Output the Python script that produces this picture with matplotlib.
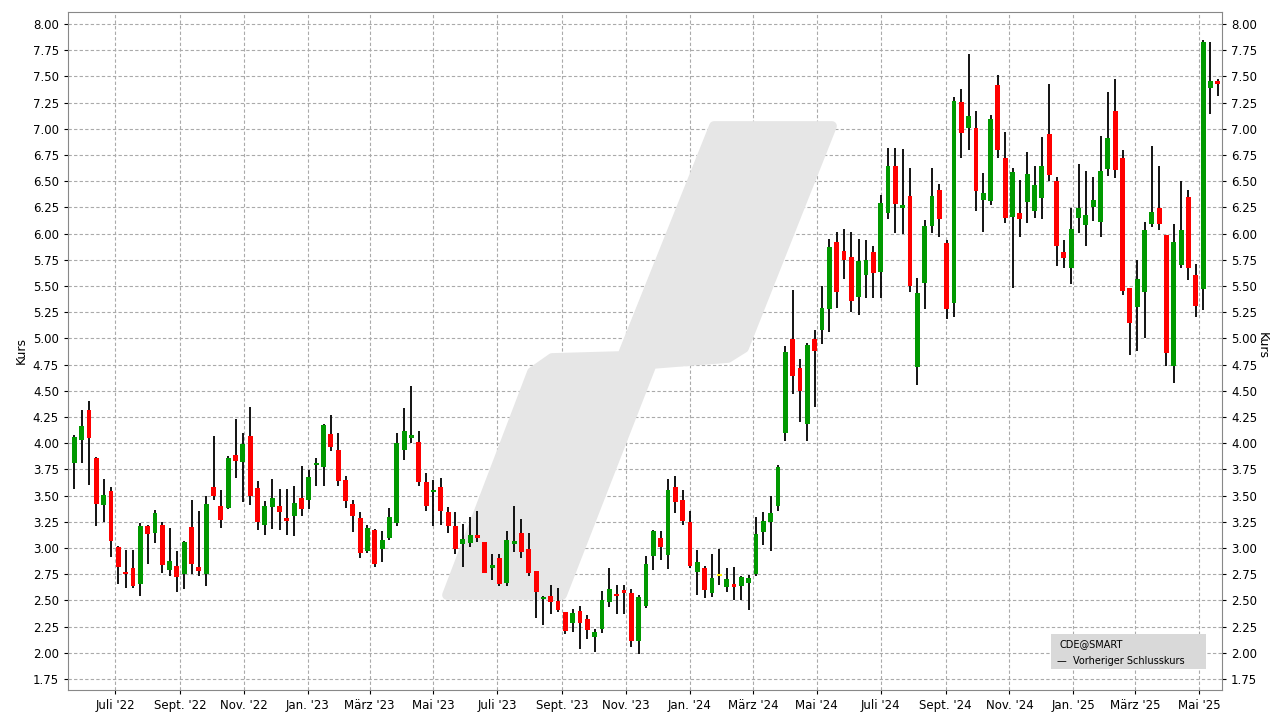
import matplotlib
matplotlib.use("Agg")
import matplotlib.pyplot as plt
import matplotlib.dates as mdates
import numpy as np
import pandas as pd
from matplotlib.patches import Polygon, Rectangle

start = "2022-05-23"
opens = [3.81,4.03,4.32,3.86,3.41,3.54,3.01,2.77,2.81,2.66,3.21,3.14,3.22,2.79,2.83,2.75,3.20,2.82,2.75,3.58,
         3.40,3.38,3.89,3.82,4.07,3.57,3.22,3.39,3.40,3.28,3.31,3.48,3.46,3.79,3.77,4.09,3.94,3.65,3.42,3.29,
         2.97,3.17,2.99,3.10,3.24,3.94,4.05,4.01,3.63,3.53,3.58,3.34,3.21,3.04,3.05,3.12,3.06,2.81,2.90,2.67,
         3.04,3.14,2.99,2.78,2.51,2.54,2.49,2.39,2.28,2.40,2.32,2.15,2.23,2.48,2.56,2.59,2.57,2.11,2.45,2.92,
         3.10,2.93,3.58,3.46,3.25,2.77,2.81,2.57,2.73,2.63,2.65,2.64,2.67,2.75,3.15,3.25,3.40,4.10,4.99,4.72,
         4.18,4.99,5.08,5.28,5.92,5.83,5.78,5.40,5.61,5.82,5.63,6.20,6.65,6.24,6.36,4.73,5.53,6.07,6.42,5.91,
         5.34,7.26,7.01,7.01,6.32,6.31,7.42,6.72,6.16,6.20,6.30,6.22,6.34,6.95,6.50,5.82,5.67,6.15,6.08,6.25,
         6.11,6.62,7.17,6.72,5.48,5.30,5.44,6.09,6.24,5.99,4.74,5.70,6.35,5.61,5.47,7.39,7.45]
highs = [4.08,4.32,4.40,3.87,3.66,3.58,3.02,2.98,2.98,3.24,3.22,3.36,3.25,3.19,2.97,3.07,3.46,3.35,3.50,4.07,
         3.55,3.88,4.23,4.10,4.35,3.64,3.45,3.66,3.56,3.56,3.59,3.78,3.74,3.86,4.18,4.27,4.10,3.69,3.46,3.34,
         3.22,3.18,3.16,3.38,4.10,4.34,4.55,4.12,3.72,3.65,3.67,3.39,3.34,3.23,3.30,3.35,3.06,2.94,2.94,3.16,
         3.40,3.28,3.14,2.78,2.54,2.65,2.62,2.39,2.42,2.45,2.36,2.23,2.59,2.81,2.65,2.65,2.61,2.55,2.92,3.17,
         3.16,3.66,3.69,3.55,3.35,2.98,2.83,2.94,2.99,2.81,2.82,2.73,2.74,3.30,3.34,3.50,3.79,4.93,5.46,4.80,
         4.96,5.08,5.50,5.95,6.02,6.04,6.02,5.95,5.94,5.88,6.37,6.82,6.82,6.81,6.63,5.58,6.13,6.63,6.47,5.94,
         7.30,7.38,7.71,7.17,6.58,7.13,7.51,6.97,6.63,6.51,6.78,6.65,6.92,7.43,6.54,5.94,6.24,6.66,6.60,6.54,
         6.93,7.35,7.48,6.80,5.48,5.75,6.11,6.84,6.65,5.99,6.09,6.50,6.42,5.71,7.85,7.83,7.48]
lows = [3.56,3.81,3.60,3.21,3.25,2.91,2.66,2.62,2.62,2.54,2.85,3.05,2.76,2.73,2.58,2.61,2.75,2.73,2.64,3.46,
        3.19,3.37,3.67,3.44,3.41,3.17,3.12,3.18,3.17,3.12,3.11,3.31,3.37,3.59,3.59,3.93,3.59,3.38,3.15,2.90,
        2.95,2.82,2.87,3.08,3.21,3.84,4.00,3.59,3.35,3.21,3.22,3.14,2.94,2.82,3.01,3.06,2.76,2.69,2.64,2.64,
        2.96,2.90,2.73,2.33,2.27,2.37,2.39,2.18,2.20,2.04,2.13,2.01,2.19,2.44,2.37,2.37,2.06,1.99,2.43,2.79,
        2.89,2.80,3.33,3.22,2.81,2.55,2.52,2.53,2.65,2.58,2.50,2.50,2.41,2.73,3.03,2.97,3.35,4.02,4.47,4.20,
        4.02,4.35,4.95,5.06,5.29,5.57,5.25,5.22,5.39,5.39,5.39,6.14,6.01,6.00,5.44,4.56,5.28,6.01,5.97,5.19,
        5.20,6.72,6.80,6.22,6.02,6.27,6.72,6.10,5.48,5.97,6.10,6.15,6.14,6.50,5.69,5.67,5.52,6.01,5.88,6.12,
        5.97,6.55,6.53,5.41,4.84,4.88,5.00,6.06,6.03,4.74,4.57,5.67,5.56,5.20,5.27,7.14,7.31]
closes = [4.06,4.16,4.05,3.42,3.51,3.07,2.82,2.75,2.64,3.21,3.13,3.33,2.84,2.88,2.72,3.06,2.85,2.78,3.42,3.50,
          3.27,3.86,3.83,3.99,3.50,3.25,3.40,3.48,3.34,3.26,3.43,3.37,3.68,3.80,4.17,3.96,3.64,3.45,3.31,2.95,
          3.19,2.85,3.08,3.30,4.00,4.12,4.07,3.63,3.40,3.55,3.35,3.21,2.99,3.09,3.12,3.10,2.76,2.84,2.66,3.08,
          3.07,2.96,2.76,2.58,2.53,2.48,2.41,2.21,2.38,2.28,2.22,2.20,2.50,2.61,2.54,2.57,2.11,2.53,2.85,3.16,
          3.01,3.55,3.44,3.26,2.83,2.87,2.60,2.71,2.73,2.70,2.63,2.72,2.71,3.13,3.26,3.33,3.77,4.87,4.64,4.50,
          4.94,4.88,5.29,5.87,5.44,5.75,5.36,5.74,5.75,5.62,6.29,6.65,6.28,6.27,5.50,5.43,6.07,6.36,6.14,5.28,
          7.27,6.96,7.12,6.41,6.39,7.09,6.80,6.15,6.59,6.14,6.57,6.46,6.65,6.56,5.88,5.77,6.04,6.24,6.18,6.32,
          6.60,6.91,6.61,5.45,5.15,5.57,6.03,6.21,6.09,4.86,5.92,6.03,5.67,5.31,7.83,7.46,7.43]

month_ticks = ["2022-07-01","2022-09-01","2022-11-01","2023-01-01","2023-03-01","2023-05-01","2023-07-01",
               "2023-09-01","2023-11-01","2024-01-01","2024-03-01","2024-05-01","2024-07-01","2024-09-01",
               "2024-11-01","2025-01-01","2025-03-01","2025-05-01"]
month_labels = ["Juli '22","Sept. '22","Nov. '22","Jan. '23","März '23","Mai '23","Juli '23","Sept. '23",
                "Nov. '23","Jan. '24","März '24","Mai '24","Juli '24","Sept. '24","Nov. '24","Jan. '25",
                "März '25","Mai '25"]

n = len(opens)
dates = pd.date_range(start, periods=n, freq="7D")
x = mdates.date2num(dates)
o = np.array(opens); h = np.array(highs); l = np.array(lows); c = np.array(closes)

W, H = 1279, 719
fig = plt.figure(figsize=(W/100, H/100), dpi=100)
fig.patch.set_facecolor("white")

ax = fig.add_axes([68/W, 29/H, 1154/W, 678/H])

# watermark (figure pixel coords), above grid, below candles
pts = [(447,595),(532,372),(552,358),(622,356),(714,126),(832,126),(744,348),(728,358),(652,364),(562,595)]
poly = Polygon([(px/W, 1-py/H) for px,py in pts], closed=True, transform=fig.transFigure,
               facecolor="#e6e6e6", edgecolor="#e6e6e6", lw=7, joinstyle="round", zorder=1)
ax.add_patch(poly)

colors = np.where(c > o, "#009900", np.where(c < o, "#ff0000", "#ffee00"))
ax.vlines(x, l, h, color="black", lw=1.3, zorder=2)
heights = np.maximum(np.abs(c-o), 0.025)
bottoms = np.minimum(o, c)
ax.bar(x, heights, bottom=bottoms, width=4.6, color=colors, zorder=3, linewidth=0)

ax.set_xlim(x[0]-6, x[-1]+4)
ax.set_ylim(1.645, 8.115)
yt = np.arange(1.75, 8.01, 0.25)
ax.set_yticks(yt)
ax.set_yticklabels([f"{v:.2f}" for v in yt], fontsize=8.5)
ax.tick_params(axis="y", which="both", right=True, labelright=True, length=3)
ax.set_xticks(mdates.date2num(pd.to_datetime(month_ticks)))
ax.set_xticklabels(month_labels, fontsize=8.5)
ax.tick_params(axis="x", length=3)
ax.grid(True, color="#aaaaaa", linestyle=(0,(3,2)), lw=0.8, zorder=0)
ax.set_axisbelow(True)
for s in ax.spines.values():
    s.set_color("#888888")
ax.set_ylabel("Kurs", fontsize=9)
fig.text(1262/W, 1-345/H, "Kurs", fontsize=9, rotation=270, ha="center", va="center")

# legend box
fig.patches.append(Rectangle((1051/W, 1-669/H), 155/W, 35/H, transform=fig.transFigure,
                             facecolor="#d9d9d9", edgecolor="none", zorder=5))
fig.text(1060/W, 1-644/H, "CDE@SMART", fontsize=7, va="center", zorder=6)
fig.text(1057/W, 1-661/H, "—  Vorheriger Schlusskurs", fontsize=7, va="center", zorder=6)

fig.savefig("out.png", dpi=100)
